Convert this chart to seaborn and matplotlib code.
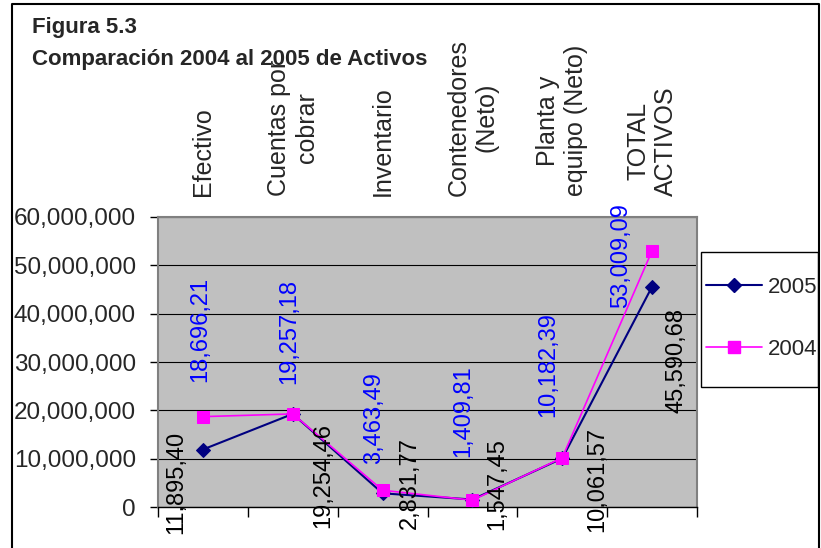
import numpy as np
import pandas as pd
import matplotlib
matplotlib.use('Agg')
import matplotlib.pyplot as plt
from matplotlib.lines import Line2D
from matplotlib.patches import Rectangle
from matplotlib.ticker import FuncFormatter, FixedLocator
import seaborn as sns

# categories and values
categorias = ['Efectivo', 'Cuentas por\ncobrar', 'Inventario', 'Contenedores\n(Neto)',
              'Planta y\nequipo (Neto)', 'TOTAL\nACTIVOS']
valores_2005 = [11895400, 19254460, 2831770, 1547450, 10061570, 45590680]
valores_2004 = [18696210, 19257180, 3463490, 1409810, 10182390, 53009090]
etiquetas_2005 = ['11,895,40', '19,254,46', '2,831,77', '1,547,45', '10,061,57', '45,590,68']
etiquetas_2004 = ['18,696,21', '19,257,18', '3,463,49', '1,409,81', '10,182,39', '53,009,09']

# label offsets in pixels (dx, dy)
off_2005 = [(-27, 19), (30, -9), (27, 56), (25, 61), (35, 31), (24, -21)]
off_2004 = [(-3, 35), (-3, 30), (-9, 26), (-9, 43), (-14, 41), (-31, -57)]

df = pd.DataFrame({'pos': np.arange(len(categorias)), 'v2005': valores_2005, 'v2004': valores_2004})

sns.set_theme(style='white')
plt.rcParams['font.family'] = ['Liberation Sans', 'DejaVu Sans']

W, H = 821, 548
fig = plt.figure(figsize=(W / 100, H / 100), dpi=100)
ax = fig.add_axes([158 / W, 1 - 507 / H, (697 - 158) / W, (507 - 217) / H])
ax.set_facecolor('#C0C0C0')

sns.lineplot(data=df, x='pos', y='v2005', ax=ax, color='#000080', lw=1.5,
             marker='D', markersize=7, markeredgecolor='#000080', zorder=3)
sns.lineplot(data=df, x='pos', y='v2004', ax=ax, color='#FF00FF', lw=1.2,
             marker='s', markersize=8, markeredgecolor='#FF00FF', zorder=4)

ax.set_xlim(-0.5, len(categorias) - 0.5)
ax.set_ylim(0, 60000000)
ax.set_yticks(np.arange(0, 60000001, 10000000))
ax.yaxis.set_major_formatter(FuncFormatter(lambda v, p: f'{v:,.0f}'))
ax.yaxis.grid(True, color='black', lw=0.8)
ax.set_axisbelow(True)
ax.set_xlabel('')
ax.set_ylabel('')

# category names at top, boundary ticks at bottom
ax.set_xticks(df['pos'])
ax.set_xticklabels(categorias, rotation=90, multialignment='center')
ax.xaxis.set_minor_locator(FixedLocator(np.arange(-0.5, len(categorias), 1.0)))
ax.tick_params(axis='x', which='major', bottom=False, top=False, labelbottom=False,
               labeltop=True, pad=9, labelsize=18)
ax.tick_params(axis='x', which='minor', bottom=True, direction='out', length=7,
               width=1, color='black')
ax.tick_params(axis='y', left=True, direction='out', length=6, width=1, color='black',
               pad=10, labelsize=17.5)

for s in ['top', 'right', 'left']:
    ax.spines[s].set_color('#808080')
    ax.spines[s].set_linewidth(1.5)
ax.spines['bottom'].set_color('black')
ax.spines['bottom'].set_linewidth(1)

# data labels
for i in range(len(categorias)):
    ax.annotate(etiquetas_2004[i], xy=(i, valores_2004[i]), xytext=off_2004[i],
                textcoords='offset pixels', rotation=90, ha='center', va='bottom',
                fontsize=17, color='#0000FF', annotation_clip=False, zorder=5)
    ax.annotate(etiquetas_2005[i], xy=(i, valores_2005[i]), xytext=off_2005[i],
                textcoords='offset pixels', rotation=90, ha='center', va='top',
                fontsize=17, color='black', annotation_clip=False, zorder=5)

# titles
fig.text(32 / W, 1 - 33 / H, 'Figura 5.3', fontsize=16, fontweight='bold', va='baseline')
fig.text(32 / W, 1 - 65 / H, 'Comparación 2004 al 2005 de Activos', fontsize=16,
         fontweight='bold', va='baseline')

# legend box and legend
fig.add_artist(Rectangle((701 / W, 1 - 387 / H), 117 / W, 135 / H, transform=fig.transFigure,
                         facecolor='white', edgecolor='black', lw=1, zorder=1))
handles = [Line2D([], [], color='#000080', lw=1.5, marker='D', markersize=7),
           Line2D([], [], color='#FF00FF', lw=1.2, marker='s', markersize=8)]
fig.legend(handles, ['2005', '2004'], loc='center left', bbox_to_anchor=(706 / W, 1 - 318.5 / H),
           frameon=False, fontsize=16, handlelength=2.5, handletextpad=0.3,
           labelspacing=1.85, borderpad=0, borderaxespad=0)

# outer frame (left, top, right)
fig.add_artist(Line2D([11.5 / W, 11.5 / W, 818.5 / W, 818.5 / W], [0, 1 - 4 / H, 1 - 4 / H, 0],
                      transform=fig.transFigure, color='black', lw=1.5))

fig.savefig('out.png', dpi=100)
